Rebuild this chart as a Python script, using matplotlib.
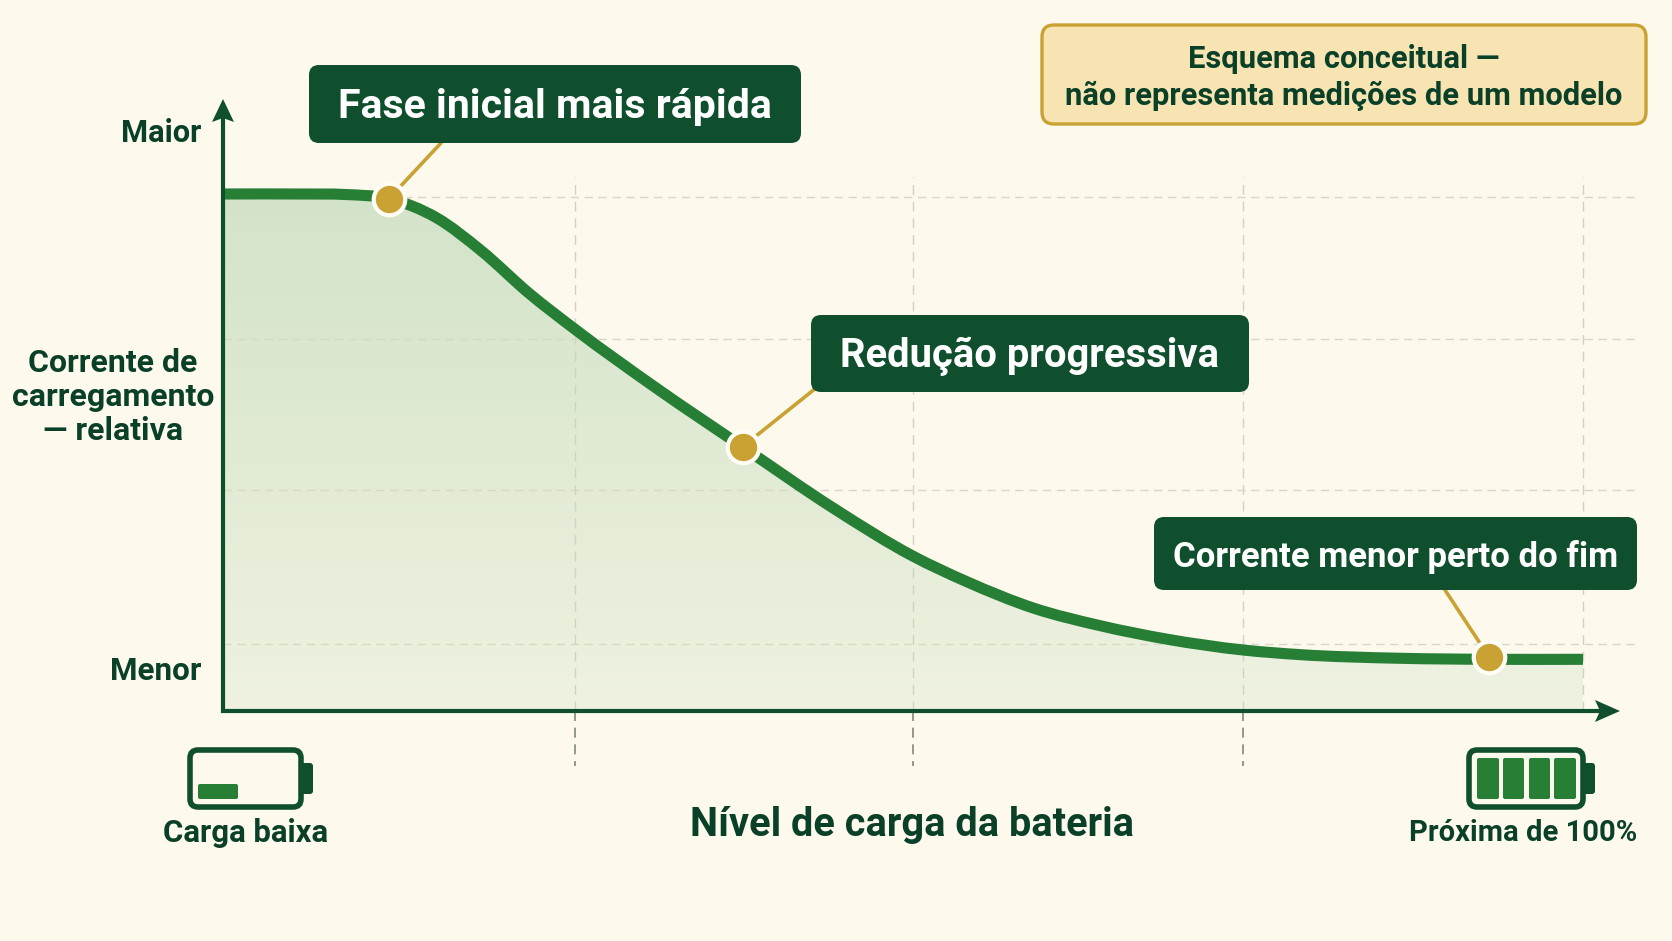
import numpy as np
import matplotlib
matplotlib.use("Agg")
import matplotlib.pyplot as plt
from matplotlib.colors import LinearSegmentedColormap
from matplotlib.patches import FancyBboxPatch, PathPatch, Polygon
from matplotlib.path import Path

# data (charge %, relative current %)
charge = [0, 5.7, 9, 12.2, 15.7, 19, 22.5, 25.9, 32, 38.2, 44.9, 50.7, 54.7, 59.6,
          64.5, 69.4, 75, 79.2, 86.5, 93.1, 100]
current = [100, 100, 99.9, 99.1, 95.4, 89, 80.8, 73.8, 62.2, 51.1, 39.2, 30, 25, 19.9,
           16.5, 13.9, 11.8, 10.9, 10.2, 10, 10]
grid_x = [25.9, 50.7, 75, 100]
grid_y = [99.4, 72, 42.7, 13]
marker_x = [12.2, 38.2, 93.1]
marker_y = [99.1, 51.1, 10.4]
callouts = ["Fase inicial mais rápida", "Redução progressiva", "Corrente menor perto do fim"]
y_levels = ["Maior", "Menor"]
y_title = "Corrente de\ncarregamento\n— relativa"
x_title = "Nível de carga da bateria"
end_labels = ["Carga baixa", "Próxima de 100%"]
note_lines = ["Esquema conceitual —", "não representa medições de um modelo"]

BG = "#fdf9ed"
DARK = "#0f4f2e"
TEXT = "#0b4028"
GREEN = "#277f36"
GOLD = "#c9a233"
W, H = 1672, 941

plt.rcParams["font.family"] = ["Roboto", "DejaVu Sans"]
plt.rcParams["font.weight"] = "bold"


def smooth_path(xs, ys):
    # bezier segments through the read points, slopes from the neighbours
    xs, ys = np.asarray(xs, float), np.asarray(ys, float)
    slopes = np.gradient(ys, xs)
    verts = [(xs[0], ys[0])]
    codes = [Path.MOVETO]
    for i in range(len(xs) - 1):
        dx = xs[i + 1] - xs[i]
        verts += [(xs[i] + dx / 3, ys[i] + slopes[i] * dx / 3),
                  (xs[i + 1] - dx / 3, ys[i + 1] - slopes[i + 1] * dx / 3),
                  (xs[i + 1], ys[i + 1])]
        codes += [Path.CURVE4] * 3
    return np.array(verts), codes


fig = plt.figure(figsize=(W / 100, H / 100), dpi=100, facecolor=BG)

# chart axes: 0-100 on both scales
ax = fig.add_axes([223 / W, 1 - 711 / H, 1360 / W, 517 / H], zorder=1)
ax.set_xlim(0, 100)
ax.set_ylim(0, 100)
ax.axis("off")

# overlay in pixels, for boxes and icons
ov = fig.add_axes([0, 0, 1, 1], zorder=5)
ov.set_xlim(0, W)
ov.set_ylim(H, 0)
ov.axis("off")
ov.patch.set_alpha(0)

curve_verts, curve_codes = smooth_path(charge, current)

# gradient under the curve
grad = np.linspace(0, 1, 256).reshape(-1, 1)
cmap = LinearSegmentedColormap.from_list("fill", ["#eff2e1", "#d3e3c9"])
im = ax.imshow(grad, origin="lower", extent=[0, 100, 0, 100], aspect="auto", cmap=cmap, zorder=1)
fill_verts = np.vstack([curve_verts, [[100, 0], [0, 0], [0, 100]]])
fill_codes = curve_codes + [Path.LINETO, Path.LINETO, Path.CLOSEPOLY]
im.set_clip_path(PathPatch(Path(fill_verts, fill_codes), transform=ax.transData))

# grid
for gy in grid_y:
    ax.plot([0, 103.8], [gy, gy], color="#d9d8c8", lw=1.0, ls=(0, (6, 4)), zorder=2, clip_on=False)
for gx in grid_x:
    ax.plot([gx, gx], [0, 103.2], color="#d2d2c4", lw=1.0, ls=(0, (7, 5)), zorder=2, clip_on=False)
for gx in grid_x[:3]:
    ax.plot([gx, gx], [0, -10.6], color="#7f8a7c", lw=1.2, ls=(0, (6, 4)), zorder=2, clip_on=False)

# curve
ax.add_patch(PathPatch(Path(curve_verts, curve_codes), fc="none", ec=GREEN, lw=8, capstyle="butt",
                       zorder=3, clip_on=False))

# axis arrows
ov.plot([223, 223], [113, 713], color=DARK, lw=3, solid_capstyle="butt", zorder=3)
ov.plot([221, 1605], [711, 711], color=DARK, lw=3, solid_capstyle="butt", zorder=3)
ov.add_patch(Polygon([(223, 99), (234, 122), (223, 118), (212, 122)], fc=DARK, ec="none", zorder=3))
ov.add_patch(Polygon([(1620, 711), (1595, 722), (1600, 711), (1595, 700)], fc=DARK, ec="none", zorder=3))

# callouts
boxes = [(309, 65, 492, 78, 29.5), (811, 315, 438, 77, 28.8), (1154, 517, 483, 73, 25)]
anchors = [(441, 143), (816, 388), (1445, 590)]
for label, (bx, by, bw, bh, fs), (tx, ty), mx, my in zip(callouts, boxes, anchors, marker_x, marker_y):
    ax.annotate("", xy=(tx, ty), xycoords=ov.transData, xytext=(mx, my), textcoords="data",
                arrowprops=dict(arrowstyle="-", color=GOLD, lw=2.6, shrinkA=0, shrinkB=0), zorder=4)
    ov.add_patch(FancyBboxPatch((bx + 10, by + 10), bw - 20, bh - 20, boxstyle="round,pad=10,rounding_size=10",
                                fc=DARK, ec="none", zorder=4))
    ov.text(bx + bw / 2, by + bh / 2 + 3, label, color="#ffffff", fontsize=fs, ha="center", va="center", zorder=6)

ax.plot(marker_x, marker_y, "o", ms=22.7, mfc=GOLD, mec="#fffdf5", mew=3, zorder=7, clip_on=False)

# note box
ov.add_patch(FancyBboxPatch((1052, 35), 584, 79, boxstyle="round,pad=10,rounding_size=12",
                            fc="#f7e4b2", ec=GOLD, lw=2.4, zorder=4))
ov.text(1344, 59, note_lines[0], color=TEXT, fontsize=22.2, ha="center", va="center", zorder=6)
ov.text(1344, 96, note_lines[1], color=TEXT, fontsize=22.2, ha="center", va="center", zorder=6)

# axis texts
ov.text(201, 133, y_levels[0], color=TEXT, fontsize=22.2, ha="right", va="center")
ov.text(201, 671, y_levels[1], color=TEXT, fontsize=22.6, ha="right", va="center")
ov.text(113, 397, y_title, color=TEXT, fontsize=23, ha="center", va="center", linespacing=1.18)
ov.text(912, 825, x_title, color=TEXT, fontsize=28.6, ha="center", va="center")
ov.text(246, 833, end_labels[0], color=TEXT, fontsize=22.4, ha="center", va="center")
ov.text(1523, 833, end_labels[1], color=TEXT, fontsize=21, ha="center", va="center")


def battery(x0, x1, cells):
    # body, cap and the green cells
    ov.add_patch(FancyBboxPatch((x0 + 10, 758), x1 - x0 - 20, 41, boxstyle="round,pad=8,rounding_size=8",
                                fc=BG, ec=DARK, lw=4, zorder=4))
    ov.add_patch(FancyBboxPatch((x1 - 2, 765), 10, 27, boxstyle="round,pad=2,rounding_size=3",
                                fc=DARK, ec="none", zorder=3))
    for cx0, cy0, cx1, cy1 in cells:
        ov.add_patch(FancyBboxPatch((cx0 + 2, cy0 + 2), cx1 - cx0 - 4, cy1 - cy0 - 4,
                                    boxstyle="round,pad=2,rounding_size=2", fc=GREEN, ec="none", zorder=5))


battery(188, 303, [(198, 784, 238, 799)])
battery(1467, 1585, [(1477, 758, 1499, 799), (1503, 758, 1524, 799), (1529, 758, 1550, 799), (1554, 758, 1576, 799)])

fig.savefig("out.png", dpi=100, facecolor=BG)
